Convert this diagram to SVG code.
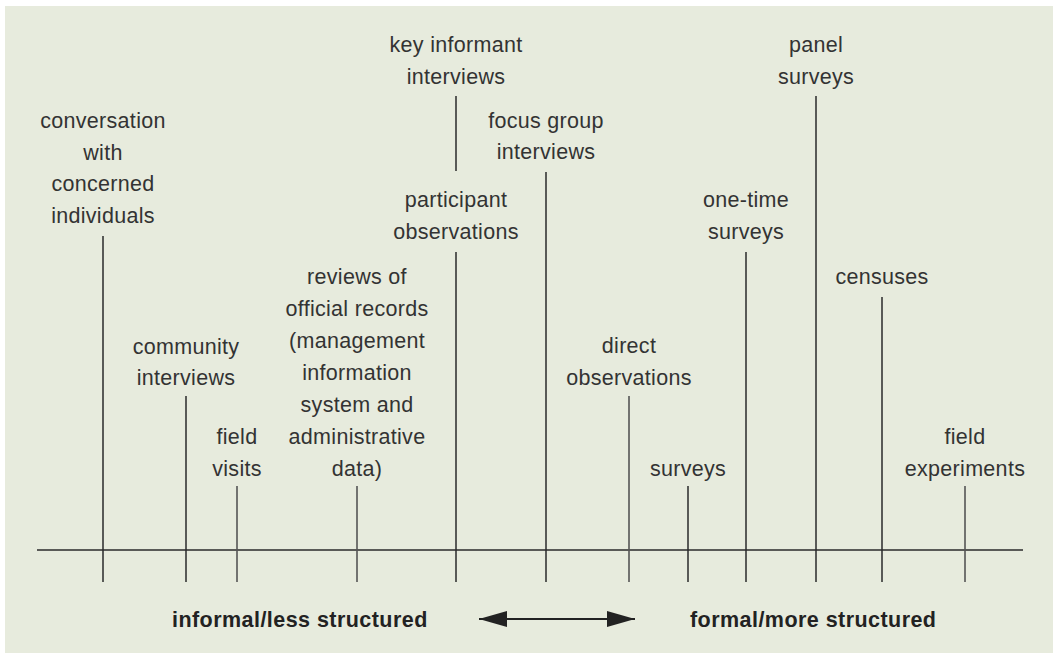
<svg xmlns="http://www.w3.org/2000/svg" width="1053" height="655" viewBox="0 0 1053 655">
<defs>
<style>
.lbl{font-family:"Liberation Sans",Arial,Helvetica,sans-serif;font-size:21.5px;fill:#333;text-anchor:middle;letter-spacing:0.3px}
.ttl{font-family:"Liberation Sans",Arial,Helvetica,sans-serif;font-size:21.5px;font-weight:bold;fill:#222;letter-spacing:0.45px}
.tick{stroke:#2a2a2a;stroke-width:1.5;fill:none}
.tickg{stroke:#555;stroke-width:1.6;fill:none}
</style>
<marker id="ah" viewBox="0 0 28 16" refX="28" refY="8" markerWidth="28" markerHeight="16" markerUnits="userSpaceOnUse" orient="auto-start-reverse">
<path d="M0,0 L28,8 L0,16 Z" fill="#222"/>
</marker>
</defs>
<rect x="0" y="0" width="1053" height="655" fill="#ffffff"/>
<rect x="5" y="6" width="1048" height="647" fill="#E7EBDD"/>

<g id="connectors">
<line class="tick" x1="37" y1="550" x2="1023" y2="550"/>
<line class="tick" x1="103" y1="236" x2="103" y2="582"/>
<line class="tick" x1="186" y1="396" x2="186" y2="582"/>
<line class="tickg" x1="237" y1="486" x2="237" y2="582"/>
<line class="tickg" x1="357" y1="486" x2="357" y2="582"/>
<line class="tick" x1="456" y1="96" x2="456" y2="171"/>
<line class="tick" x1="456" y1="252" x2="456" y2="582"/>
<line class="tick" x1="546" y1="172" x2="546" y2="582"/>
<line class="tickg" x1="629" y1="396" x2="629" y2="582"/>
<line class="tick" x1="688" y1="486" x2="688" y2="582"/>
<line class="tick" x1="746" y1="252" x2="746" y2="582"/>
<line class="tick" x1="816" y1="96" x2="816" y2="582"/>
<line class="tick" x1="882" y1="297" x2="882" y2="582"/>
<line class="tickg" x1="965" y1="486" x2="965" y2="582"/>
<line x1="479" y1="619" x2="635" y2="619" stroke="#222" stroke-width="2.2" marker-start="url(#ah)" marker-end="url(#ah)"/>
</g>

<g id="conversation">
<text class="lbl" x="103" y="128">conversation</text>
<text class="lbl" x="103" y="159.5">with</text>
<text class="lbl" x="103" y="191">concerned</text>
<text class="lbl" x="103" y="222.5">individuals</text>
</g>
<g id="community">
<text class="lbl" x="186" y="353.5">community</text>
<text class="lbl" x="186" y="385">interviews</text>
</g>
<g id="field-visits">
<text class="lbl" x="237" y="444">field</text>
<text class="lbl" x="237" y="475.5">visits</text>
</g>
<g id="reviews">
<text class="lbl" x="357" y="284">reviews of</text>
<text class="lbl" x="357" y="315.5">official records</text>
<text class="lbl" x="357" y="347.5">(management</text>
<text class="lbl" x="357" y="379.5">information</text>
<text class="lbl" x="357" y="411.5">system and</text>
<text class="lbl" x="357" y="443.5">administrative</text>
<text class="lbl" x="357" y="475.5">data)</text>
</g>
<g id="key-informant">
<text class="lbl" x="456" y="52">key informant</text>
<text class="lbl" x="456" y="83.5">interviews</text>
</g>
<g id="participant">
<text class="lbl" x="456" y="207">participant</text>
<text class="lbl" x="456" y="239">observations</text>
</g>
<g id="focus-group">
<text class="lbl" x="546" y="127.5">focus group</text>
<text class="lbl" x="546" y="159">interviews</text>
</g>
<g id="direct">
<text class="lbl" x="629" y="353">direct</text>
<text class="lbl" x="629" y="384.5">observations</text>
</g>
<g id="surveys">
<text class="lbl" x="688" y="475.5">surveys</text>
</g>
<g id="one-time">
<text class="lbl" x="746" y="207">one-time</text>
<text class="lbl" x="746" y="239">surveys</text>
</g>
<g id="panel">
<text class="lbl" x="816" y="52">panel</text>
<text class="lbl" x="816" y="83.5">surveys</text>
</g>
<g id="censuses">
<text class="lbl" x="882" y="284">censuses</text>
</g>
<g id="field-experiments">
<text class="lbl" x="965" y="444">field</text>
<text class="lbl" x="965" y="475.5">experiments</text>
</g>
<g id="informal">
<text class="ttl" x="172" y="626.5">informal/less structured</text>
</g>
<g id="formal">
<text class="ttl" x="690" y="626.5">formal/more structured</text>
</g>
</svg>
